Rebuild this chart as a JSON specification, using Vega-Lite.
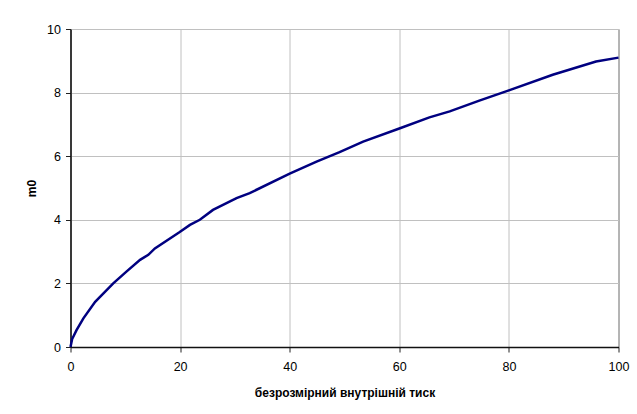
{
  "$schema": "https://vega.github.io/schema/vega-lite/v6.json",
  "autosize": "none",
  "width": 548,
  "height": 318,
  "padding": {"left": 70.5, "top": 29, "right": 18, "bottom": 67},
  "background": "white",
  "config": {
    "view": {"stroke": "#555555", "strokeWidth": 1},
    "font": "Liberation Sans",
    "axis": {
      "labelFont": "Liberation Sans",
      "labelFontSize": 12.5,
      "labelColor": "#000000",
      "titleFont": "Liberation Sans",
      "titleFontSize": 12,
      "titleFontWeight": "bold",
      "titleColor": "#000000",
      "domainColor": "#111111",
      "domainWidth": 1.5,
      "tickColor": "#222222",
      "tickWidth": 1,
      "tickSize": 5,
      "gridColor": "#c0c0c0",
      "gridWidth": 1
    }
  },
  "data": {
    "values": [
      {"p": 0, "m0": 0},
      {"p": 0.3, "m0": 0.25},
      {"p": 1.1, "m0": 0.53},
      {"p": 2.35, "m0": 0.9},
      {"p": 4.5, "m0": 1.42},
      {"p": 7.8, "m0": 2.0},
      {"p": 10.2, "m0": 2.37},
      {"p": 12.7, "m0": 2.74},
      {"p": 14.2, "m0": 2.9},
      {"p": 15.4, "m0": 3.1},
      {"p": 19.8, "m0": 3.6},
      {"p": 21.8, "m0": 3.84},
      {"p": 23.6, "m0": 4.0},
      {"p": 26, "m0": 4.31},
      {"p": 30.3, "m0": 4.68},
      {"p": 32.7, "m0": 4.84},
      {"p": 40, "m0": 5.45},
      {"p": 44.9, "m0": 5.83},
      {"p": 49.1, "m0": 6.13},
      {"p": 53.4, "m0": 6.46},
      {"p": 60, "m0": 6.87},
      {"p": 65.5, "m0": 7.22},
      {"p": 69.2, "m0": 7.41},
      {"p": 74.6, "m0": 7.75},
      {"p": 80, "m0": 8.07},
      {"p": 88, "m0": 8.56},
      {"p": 95.9, "m0": 8.98},
      {"p": 100, "m0": 9.1}
    ]
  },
  "mark": {"type": "line", "color": "#000080", "strokeWidth": 2.5},
  "encoding": {
    "x": {
      "field": "p",
      "type": "quantitative",
      "scale": {"domain": [0, 100], "nice": false, "zero": true},
      "axis": {
        "title": "безрозмірний внутрішній тиск",
        "values": [0, 20, 40, 60, 80, 100],
        "labelPadding": 8,
        "titlePadding": 15,
        "labelFlush": false
      }
    },
    "y": {
      "field": "m0",
      "type": "quantitative",
      "scale": {"domain": [0, 10], "nice": false},
      "axis": {
        "title": "m0",
        "values": [0, 2, 4, 6, 8, 10],
        "labelPadding": 5,
        "titlePadding": 8,
        "labelFlush": false
      }
    }
  }
}
